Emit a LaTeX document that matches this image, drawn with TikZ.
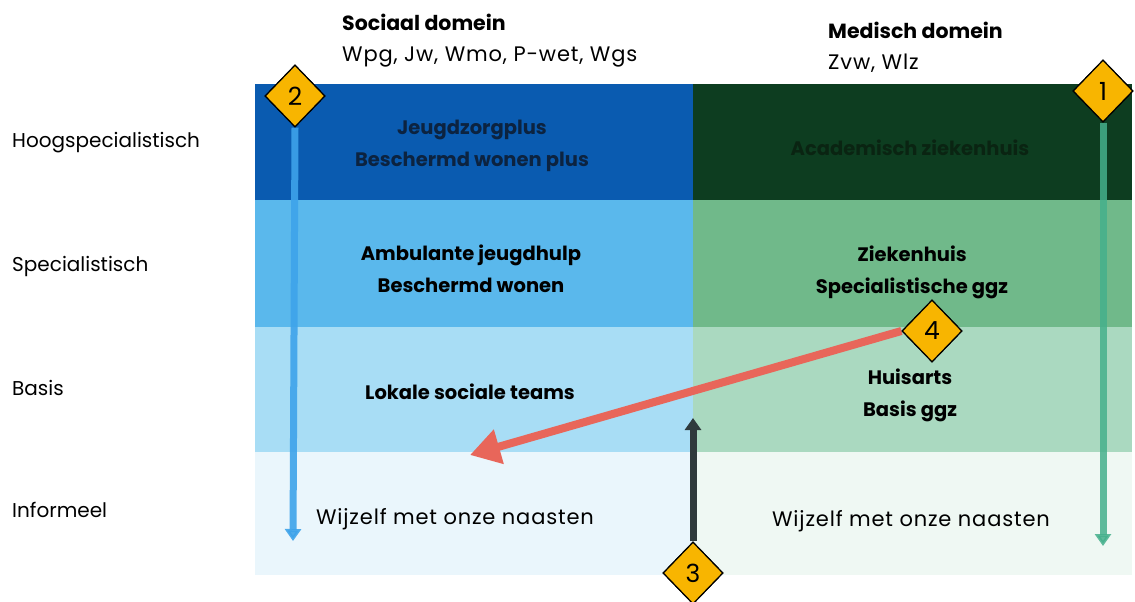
\documentclass[tikz,border=0pt]{standalone}
\usepackage{fontspec}
\setmainfont{Poppins}
\usetikzlibrary{shapes.geometric,arrows.meta}
\definecolor{topblue}{HTML}{0A5BB0}
\definecolor{topgreen}{HTML}{0D3D20}
\definecolor{midblue}{HTML}{5AB8EC}
\definecolor{midgreen}{HTML}{70B98A}
\definecolor{lowblue}{HTML}{A8DDF5}
\definecolor{lowgreen}{HTML}{AAD9C0}
\definecolor{infblue}{HTML}{EAF6FC}
\definecolor{infgreen}{HTML}{EFF8F3}
\definecolor{arrblue}{HTML}{3EA3EA}
\definecolor{arrgreen}{HTML}{45B08C}
\definecolor{arrred}{HTML}{E8665A}
\definecolor{arrdark}{HTML}{2F3A3C}
\definecolor{badgeyellow}{HTML}{F8B500}
\definecolor{txtdarkblue}{HTML}{0C2340}
\definecolor{txtdarkgreen}{HTML}{0A2412}
\tikzset{
  badge/.style={diamond, draw=black, line width=1.2pt, fill=badgeyellow, minimum width=60pt, minimum height=62pt, inner sep=0pt, font=\fontsize{25}{28}\selectfont},
  rowlabel/.style={anchor=west, font=\fontsize{20}{24}\selectfont, inner sep=0pt},
  header/.style={anchor=west, font=\fontsize{20.5}{24}\selectfont\bfseries, inner sep=0pt},
  law/.style={anchor=west, font=\fontsize{21}{24}\selectfont\addfontfeatures{LetterSpace=4}, inner sep=0pt},
  cell/.style={align=center, font=\fontsize{19.5}{32}\selectfont\bfseries, inner sep=0pt},
  plain/.style={align=center, font=\fontsize{21}{32}\selectfont\addfontfeatures{LetterSpace=4}, inner sep=0pt},
  vert/.style={line width=7pt, -{Triangle[width=16pt,length=12pt]}},
}
\begin{document}
\begin{tikzpicture}[x=1pt,y=-1pt]
\useasboundingbox (0,0) rectangle (1135,602);
% bands
\fill[topblue] (255,84) rectangle (693,200);
\fill[topgreen] (693,84) rectangle (1132,200);
\fill[midblue] (255,200) rectangle (693,327);
\fill[midgreen] (693,200) rectangle (1132,327);
\fill[lowblue] (255,327) rectangle (693,452);
\fill[lowgreen] (693,327) rectangle (1132,452);
\fill[infblue] (255,452) rectangle (693,575);
\fill[infgreen] (693,452) rectangle (1132,575);
% headers
\node[header] (hsoc) at (342,22) {Sociaal domein};
\node[law] (lsoc) at (342,57) {Wpg, Jw, Wmo, P-wet, Wgs};
\node[header] (hmed) at (828,30) {Medisch domein};
\node[law] (lmed) at (828,63) {Zvw, Wlz};
% row labels
\node[rowlabel] (r1) at (12,143) {Hoogspecialistisch};
\node[rowlabel] (r2) at (12,266) {Specialistisch};
\node[rowlabel] (r3) at (12,388) {Basis};
\node[rowlabel] (r4) at (12,510) {Informeel};
% cells
\node[cell, text=txtdarkblue] (c11) at (472,146) {Jeugdzorgplus\\Beschermd wonen plus};
\node[cell, text=txtdarkgreen] (c12) at (910,148) {Academisch ziekenhuis};
\node[cell] (c21) at (471,269) {Ambulante jeugdhulp\\Beschermd wonen};
\node[cell] (c22) at (912,272) {Ziekenhuis\\Specialistische ggz};
\node[cell] (c31) at (470,392) {Lokale sociale teams};
\node[cell] (c32) at (910,395) {Huisarts\\Basis ggz};
\node[plain] (c41) at (455,519) {Wijzelf met onze naasten};
\node[plain] (c42) at (911,521) {Wijzelf met onze naasten};
% badges
\node[badge] (b2) at (295,96) {2};
\node[badge] (b1) at (1103,91) {1};
\node[badge] (b4) at (932,331) {4};
\node[badge] (b3) at (693,573) {3};
\coordinate (e2) at (293,541);
\coordinate (e1) at (1103,546);
\coordinate (e4) at (470,455);
\coordinate (e3) at (693,418);
% connectors
\draw[vert, arrblue, opacity=0.9] (b2.south) -- (e2);
\draw[vert, arrgreen, opacity=0.85] (b1.south) -- (e1);
\draw[line width=8pt, arrred, -{Triangle[width=34pt,length=30pt]}] (b4.west) -- (e4);
\draw[vert, arrdark] (b3.north) -- (e3);
% badges drawn again on top of the connectors
\node[badge] at (b2) {2};
\node[badge] at (b1) {1};
\node[badge] at (b4) {4};
\node[badge] at (b3) {3};
\end{tikzpicture}
\end{document}
